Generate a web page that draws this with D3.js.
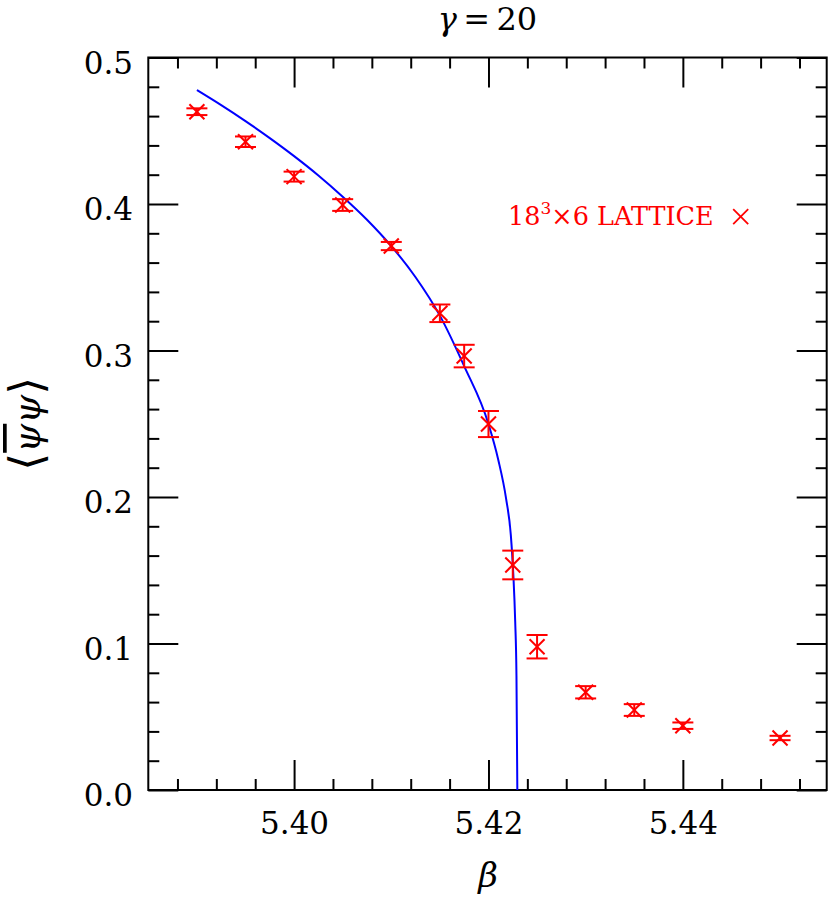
<!DOCTYPE html>
<html><head><meta charset="utf-8">
<script src="https://cdn.jsdelivr.net/npm/d3@7"></script>
<style>body{margin:0;background:#fff}</style>
</head><body>
<svg id="c" width="830" height="902"></svg>
<script>
// data points: beta, <psibar psi>, error
const beta = [5.390, 5.395, 5.400, 5.405, 5.410, 5.415, 5.4175, 5.420, 5.4225, 5.425, 5.430, 5.435, 5.440, 5.450];
const pbp  = [0.4630, 0.4425, 0.4187, 0.3993, 0.3713, 0.3254, 0.2962, 0.2498, 0.1536, 0.0978, 0.0667, 0.0546, 0.0439, 0.0355];
const err  = [0.0023, 0.0036, 0.0034, 0.0040, 0.0028, 0.0060, 0.0077, 0.0089, 0.0098, 0.0080, 0.0042, 0.0040, 0.0022, 0.0015];
// fit curve
const fitBeta = [5.3900, 5.3925, 5.3950, 5.3975, 5.4000, 5.4025, 5.4050, 5.4075, 5.4100, 5.4125, 5.4150, 5.4175, 5.4200, 5.4210, 5.4218, 5.4223, 5.42255, 5.42275, 5.42288, 5.42297];
const fitVal  = [0.4778, 0.4675, 0.4566, 0.4450, 0.4327, 0.4195, 0.4050, 0.3893, 0.3713, 0.3500, 0.3238, 0.2893, 0.2498, 0.2256, 0.1994, 0.1740, 0.1480, 0.1150, 0.0780, 0.0000];
// ticks
const xMajor = [5.40, 5.42, 5.44];
const xLabels = ["5.40", "5.42", "5.44"];
const xMinor = [5.388, 5.392, 5.396, 5.404, 5.408, 5.412, 5.416, 5.424, 5.428, 5.432, 5.436, 5.444, 5.448, 5.452];
const yMajor = [0.0, 0.1, 0.2, 0.3, 0.4, 0.5];
const yLabels = ["0.0", "0.1", "0.2", "0.3", "0.4", "0.5"];
const yMinor = [0.02,0.04,0.06,0.08,0.12,0.14,0.16,0.18,0.22,0.24,0.26,0.28,0.32,0.34,0.36,0.38,0.42,0.44,0.46,0.48];

const L = 148.3, R = 826.7, T = 57.5, B = 790;
const svg = d3.select("#c");
const x = d3.scaleLinear().domain([5.385, 5.4548]).range([L, R]);
const y = d3.scaleLinear().domain([0, 0.5]).range([B, T]);
const FONT = "'DejaVu Serif', serif";

function style(g) {
  g.select(".domain").remove();
  g.selectAll("line").attr("stroke", "#000").attr("stroke-width", 2);
}
// bottom
const gb = svg.append("g").attr("transform", `translate(0,${B})`)
  .call(d3.axisBottom(x).tickValues(xMajor).tickSize(-30).tickFormat((d, i) => xLabels[i]));
style(gb);
gb.selectAll("text").attr("y", 44.3).attr("dy", 0).attr("font-family", FONT).attr("font-size", 31).attr("fill", "#000");
svg.append("g").attr("transform", `translate(0,${B})`)
  .call(d3.axisBottom(x).tickValues(xMinor).tickSize(-11).tickFormat("")).call(style);
// top
svg.append("g").attr("transform", `translate(0,${T})`)
  .call(d3.axisTop(x).tickValues(xMajor).tickSize(-30).tickFormat("")).call(style);
svg.append("g").attr("transform", `translate(0,${T})`)
  .call(d3.axisTop(x).tickValues(xMinor).tickSize(-11).tickFormat("")).call(style);
// left
const gl = svg.append("g").attr("transform", `translate(${L},0)`)
  .call(d3.axisLeft(y).tickValues(yMajor).tickSize(-30).tickFormat((d, i) => yLabels[i]));
style(gl);
gl.selectAll("text").attr("x", -15.3).attr("dy", 0).attr("y", 15.5).attr("font-family", FONT).attr("font-size", 31).attr("fill", "#000");
svg.append("g").attr("transform", `translate(${L},0)`)
  .call(d3.axisLeft(y).tickValues(yMinor).tickSize(-11).tickFormat("")).call(style);
// right
svg.append("g").attr("transform", `translate(${R},0)`)
  .call(d3.axisRight(y).tickValues(yMajor).tickSize(-30).tickFormat("")).call(style);
svg.append("g").attr("transform", `translate(${R},0)`)
  .call(d3.axisRight(y).tickValues(yMinor).tickSize(-11).tickFormat("")).call(style);

// frame
svg.append("rect").attr("x", L).attr("y", T).attr("width", R - L).attr("height", B - T)
  .attr("fill", "none").attr("stroke", "#000").attr("stroke-width", 2);

// fit curve
const line = d3.line().x((d, i) => x(fitBeta[i])).y((d, i) => y(fitVal[i])).curve(d3.curveMonotoneX);
svg.append("path").datum(fitBeta).attr("d", line).attr("fill", "none").attr("stroke", "#0000ff").attr("stroke-width", 2);

// data points
const red = "#ff0000";
const cap = 10.5, mk = 7.5;
const pts = svg.append("g").attr("stroke", red).attr("stroke-width", 2).attr("fill", "none");
beta.forEach((b, i) => {
  const cx = x(b), cy = y(pbp[i]), y1 = y(pbp[i] + err[i]), y2 = y(pbp[i] - err[i]);
  const g = pts.append("g");
  g.append("line").attr("x1", cx).attr("x2", cx).attr("y1", y1).attr("y2", y2);
  g.append("line").attr("x1", cx - cap).attr("x2", cx + cap).attr("y1", y1).attr("y2", y1);
  g.append("line").attr("x1", cx - cap).attr("x2", cx + cap).attr("y1", y2).attr("y2", y2);
  g.append("line").attr("x1", cx - mk).attr("x2", cx + mk).attr("y1", cy - mk).attr("y2", cy + mk);
  g.append("line").attr("x1", cx - mk).attr("x2", cx + mk).attr("y1", cy + mk).attr("y2", cy - mk);
});

// legend
const lg = svg.append("text").attr("x", 508).attr("y", 225).attr("font-family", FONT).attr("font-size", 25.5).attr("fill", red);
lg.append("tspan").text("18");
lg.append("tspan").attr("font-size", 17).attr("dy", -11).text("3");
lg.append("tspan").attr("dy", 11).text("×6 LATTICE");
const lx = 740.7, ly = 216.7;
svg.append("line").attr("x1", lx - mk).attr("x2", lx + mk).attr("y1", ly - mk).attr("y2", ly + mk).attr("stroke", red).attr("stroke-width", 1.8);
svg.append("line").attr("x1", lx - mk).attr("x2", lx + mk).attr("y1", ly + mk).attr("y2", ly - mk).attr("stroke", red).attr("stroke-width", 1.8);

// title
const tt = svg.append("text").attr("x", (L + R) / 2).attr("y", 30).attr("text-anchor", "middle")
  .attr("font-family", FONT).attr("font-size", 32).attr("fill", "#000");
tt.append("tspan").attr("font-style", "italic").text("γ");
tt.append("tspan").text("\u2009=\u200920");

// x label
svg.append("text").attr("x", 488).attr("y", 887).attr("text-anchor", "middle")
  .attr("font-family", FONT).attr("font-size", 34).attr("font-style", "italic").text("β");

// y label
const yl = svg.append("text").attr("transform", `translate(40,${(T + B) / 2}) rotate(-90)`)
  .attr("text-anchor", "middle").attr("font-family", FONT).attr("font-size", 37).attr("fill", "#000");
yl.append("tspan").attr("font-size", 46).attr("font-weight", 300).attr("dy", 2).text("⟨");
yl.append("tspan").attr("font-style", "italic").attr("text-decoration", "overline").attr("dy", -2).text("ψ");
yl.append("tspan").attr("font-style", "italic").text("ψ");
yl.append("tspan").attr("font-size", 46).attr("font-weight", 300).attr("dy", 2).text("⟩");
</script>
</body></html>
